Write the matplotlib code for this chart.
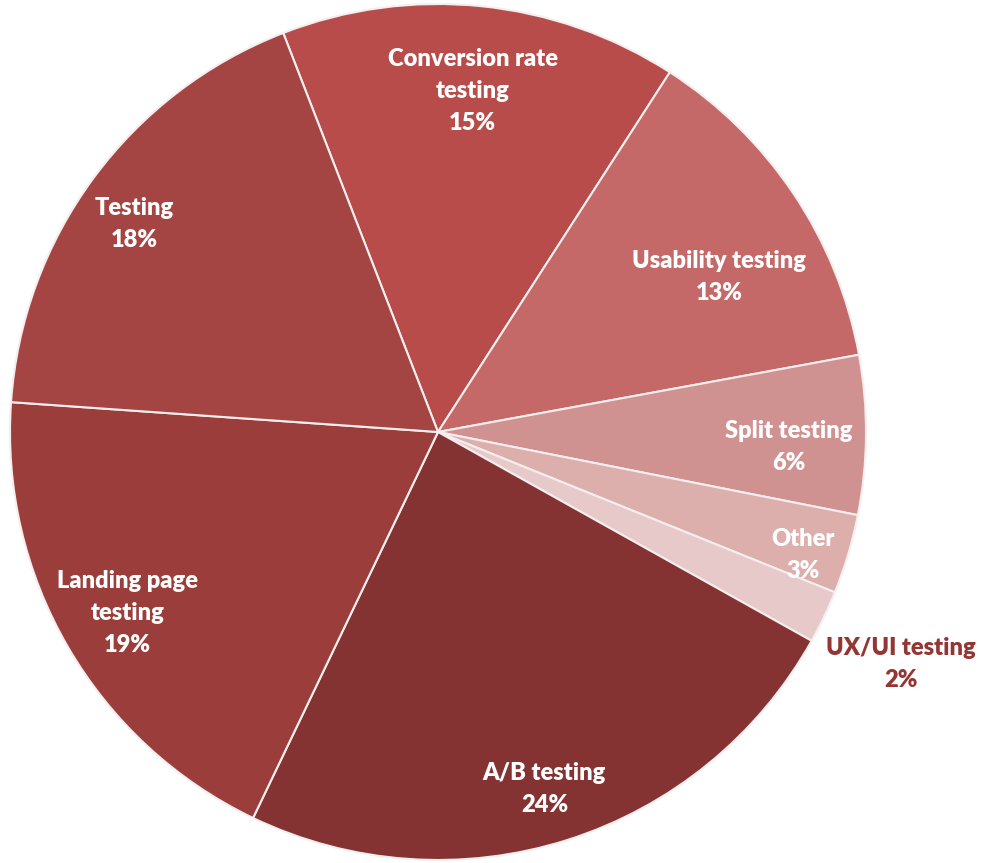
import matplotlib
matplotlib.use("Agg")
import matplotlib.pyplot as plt
import numpy as np

labels = ["Conversion rate\ntesting", "Usability testing", "Split testing", "Other",
          "UX/UI testing", "A/B testing", "Landing page\ntesting", "Testing"]
values = [15, 13, 6, 3, 2, 24, 19, 18]
colors = ["#b84c4a", "#c46967", "#d09291", "#dcaeac", "#e8c9c9",
          "#843332", "#9b3d3b", "#a54543"]
label_dist = [0.80, 0.75, 0.82, 0.90, 1.21, 0.87, 0.84, 0.86]
label_shift = [0, -5, -2, -2, -1, -1, 0, 2]
text_colors = ["white"] * 4 + ["#943634"] + ["white"] * 3

plt.rcParams['font.family'] = ['Lato', 'DejaVu Sans']

W, H = 982, 863
cx, cy, R = 438, 432, 428
fig = plt.figure(figsize=(W / 100, H / 100), dpi=100)
ax = fig.add_axes([0, 0, 1, 1])

wedges, _ = ax.pie(values, colors=colors, startangle=111.2, counterclock=False,
                   radius=1.0, center=(0, 0), frame=True,
                   wedgeprops=dict(edgecolor="#f4eeee", linewidth=1.5))
ax.set_xlim(-cx / R, (W - cx) / R)
ax.set_ylim(-(H - cy) / R, cy / R)
ax.set_aspect("auto")
ax.axis("off")

for w, lab, v, d, s, tc in zip(wedges, labels, values, label_dist, label_shift, text_colors):
    ang = np.deg2rad((w.theta1 + w.theta2) / 2 + s)
    x, y = d * np.cos(ang), d * np.sin(ang)
    ax.text(x, y, f"{lab}\n{v}%", ha="center", va="center", color=tc,
            fontsize=17, fontweight="heavy", linespacing=1.56)

fig.savefig("out.png", dpi=100)
